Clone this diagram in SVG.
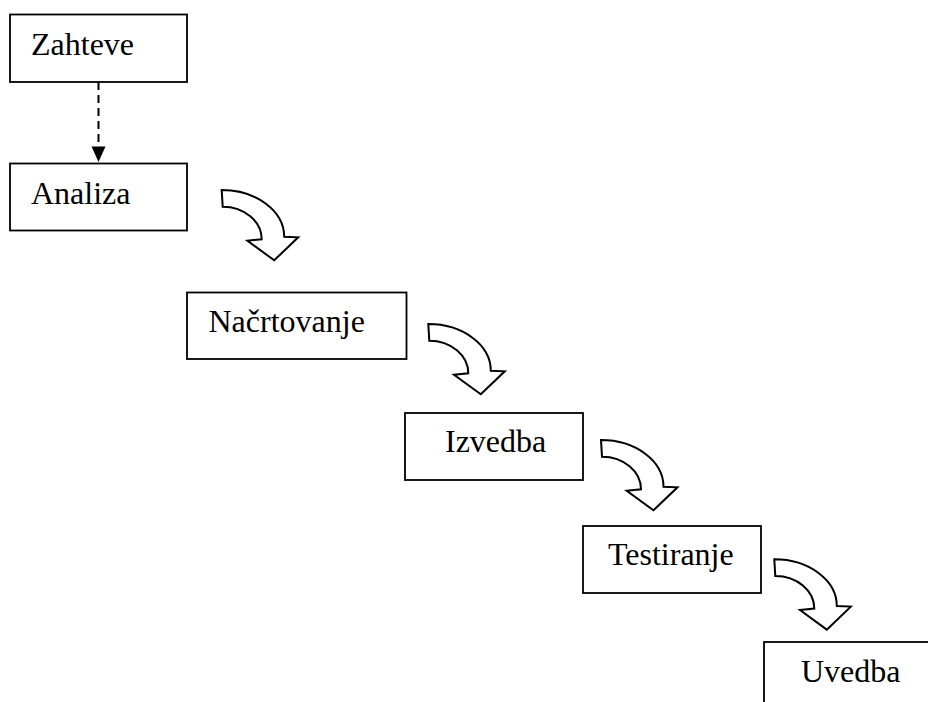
<svg xmlns="http://www.w3.org/2000/svg" xmlns:xlink="http://www.w3.org/1999/xlink" width="928" height="702" viewBox="0 0 928 702">
  <style>
    .box { fill: #ffffff; stroke: #000000; stroke-width: 1.8; }
    .label { font-family: "Liberation Serif", "Times New Roman", serif; font-size: 32px; fill: #000000; }
    .dash { fill: none; stroke: #000000; stroke-width: 2; stroke-dasharray: 8 5; }
    .bend { fill: #ffffff; stroke: #000000; stroke-width: 2; stroke-linejoin: miter; }
  </style>
  <defs>
    <!-- curved block arrow, origin at its top-left corner -->
    <path id="bend-arrow" d="M0,0 A62.5,46.7 0 0 1 62.5,46.7 L76.5,47.3 L52.5,70.3 L25.7,50.7 L40,49.3 A39,32.6 0 0 0 1,16.7 Z"/>
  </defs>

  <rect width="928" height="702" fill="#ffffff"/>

  <g id="connectors">
    <line class="dash" x1="98.5" y1="82" x2="98.5" y2="145"/>
    <path d="M91.5,146.5 L105.5,146.5 L98.5,162 Z" fill="#000000"/>
    <use xlink:href="#bend-arrow" class="bend" transform="translate(221.7,190)"/>
    <use xlink:href="#bend-arrow" class="bend" transform="translate(428.3,324)"/>
    <use xlink:href="#bend-arrow" class="bend" transform="translate(601,440)"/>
    <use xlink:href="#bend-arrow" class="bend" transform="translate(774.3,559.3)"/>
  </g>

  <g id="zahteve">
    <rect class="box" x="10" y="14.5" width="177" height="67.5"/>
    <text class="label" x="31" y="55">Zahteve</text>
  </g>

  <g id="analiza">
    <rect class="box" x="10" y="163.5" width="177" height="67"/>
    <text class="label" x="31" y="203.5">Analiza</text>
  </g>

  <g id="nacrtovanje">
    <rect class="box" x="187" y="292.5" width="219.5" height="66.5"/>
    <text class="label" x="208.5" y="331.5">Načrtovanje</text>
  </g>

  <g id="izvedba">
    <rect class="box" x="405" y="413" width="178" height="67"/>
    <text class="label" x="445" y="452">Izvedba</text>
  </g>

  <g id="testiranje">
    <rect class="box" x="583" y="526" width="178" height="67"/>
    <text class="label" x="608" y="565">Testiranje</text>
  </g>

  <g id="uvedba">
    <rect class="box" x="764" y="642" width="200" height="80"/>
    <text class="label" x="801" y="681.5">Uvedba</text>
  </g>
</svg>
